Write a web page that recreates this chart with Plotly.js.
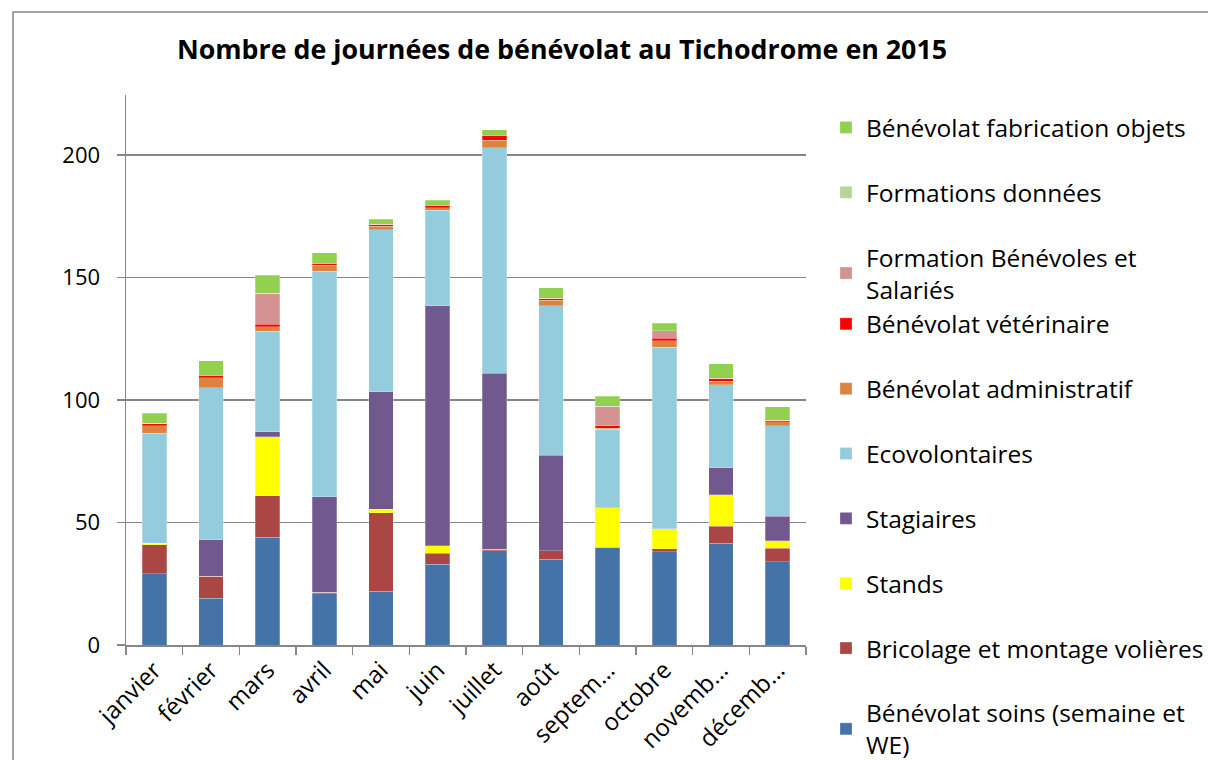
<!DOCTYPE html>
<html>
<head>
<meta charset="utf-8">
<script src="https://cdn.plot.ly/plotly-3.0.1.min.js"></script>
<style>
  body { margin: 0; background: #fff; }
  #chart { width: 1208px; height: 760px; }
</style>
</head>
<body>
<div id="chart"></div>
<script>
var months = ["janvier", "février", "mars", "avril", "mai", "juin", "juillet", "août", "septem…", "octobre", "novemb…", "décemb…"]

// journées par catégorie
var soins        = [29, 19, 44, 21, 22, 33, 38.5, 35, 40, 38, 41.5, 34]
var bricolage    = [12, 9, 17, 0.5, 32, 4.5, 0.5, 3.5, 0, 1.2, 7, 5.5]
var stands       = [0.5, 0, 24, 0, 1.4, 3, 0, 0, 16, 8.3, 12.8, 3]
var stagiaires   = [0, 15, 2, 39, 48, 98, 72, 39, 0, 0, 11, 10]
var ecovol       = [45, 62, 41, 92, 66, 39, 92, 61, 32, 74, 34, 37]
var admin        = [3, 4, 2, 2.5, 1.6, 1, 3, 2.3, 0.5, 2.6, 1.4, 1.6]
var veto         = [1, 1, 1, 0.7, 0.8, 0.7, 1.8, 0.8, 1, 1.2, 1.2, 0.7]
var formBenev    = [0, 0, 12.5, 0, 0, 0, 0, 0, 8, 3, 0, 0]
var formDonnees  = [0, 0, 0, 0, 0, 0, 0, 0, 0, 0, 0, 0]
var fabrication  = [4, 6, 7.5, 4.4, 2, 2.4, 2.6, 4.3, 4, 3.1, 5.9, 5.5]

// stacking order bottom -> top; legend shows them top -> bottom (rank)
var series = [
    {name: "Bénévolat soins (semaine et<br>WE)", y: soins, color: "#4572A7", group: "g1", rank: 10},
    {name: "Bricolage et montage volières", y: bricolage, color: "#AA4643", group: "g2", rank: 9},
    {name: "Stands", y: stands, color: "#FFFF00", group: "g3", rank: 8},
    {name: "Stagiaires", y: stagiaires, color: "#71588F", group: "g4", rank: 7},
    {name: "Ecovolontaires", y: ecovol, color: "#93CDDD", group: "g5", rank: 6},
    {name: "Bénévolat administratif", y: admin, color: "#DB843D", group: "g6", rank: 5},
    {name: "Bénévolat vétérinaire", y: veto, color: "#FF0000", group: "g7", rank: 4},
    {name: "Formation Bénévoles et<br>Salariés", y: formBenev, color: "#D39391", group: "g7", rank: 3},
    {name: "Formations données", y: formDonnees, color: "#B9D49B", group: "g8", rank: 2},
    {name: "Bénévolat fabrication objets", y: fabrication, color: "#92D050", group: "g9", rank: 1}
]

var font = "'Open Sans', Lato, sans-serif"

var data = series.map(function (s) {
    return {
        type: "bar",
        x: months,
        y: s.y,
        name: s.name,
        legendgroup: s.group,
        legendrank: s.rank,
        marker: {color: s.color, line: {color: "rgba(255,255,255,0.5)", width: 0.5}},
        hoverinfo: "x+y+name"
    }
})

// plot area in pixels: x 126..806, y 95..645
var L = 126, R = 806, T = 95, B = 645
var pw = R - L, ph = B - T

var layout = {
    width: 1208,
    height: 760,
    barmode: "stack",
    bargap: 0.57,
    paper_bgcolor: "#ffffff",
    plot_bgcolor: "#ffffff",
    font: {family: font, size: 22, color: "#000000"},
    margin: {l: L, r: 1208 - R, t: T, b: 760 - B, autoexpand: false},
    title: {
        text: "<b>Nombre de journées de bénévolat au Tichodrome en 2015</b>",
        font: {family: font, size: 26.8, color: "#000000"},
        x: 562 / 1208, xanchor: "center",
        y: 1 - 50 / 760, yanchor: "middle"
    },
    xaxis: {
        type: "category",
        tickangle: -45,
        showline: true, linecolor: "#868686", linewidth: 1.5,
        ticks: "outside", tickson: "boundaries", ticklen: 8, tickcolor: "#868686", tickwidth: 1.5,
        showgrid: false,
        tickfont: {size: 24}
    },
    yaxis: {
        range: [0, 224.5],
        tickvals: [0, 50, 100, 150, 200],
        showline: true, linecolor: "#868686", linewidth: 1.5,
        ticks: "outside", ticklen: 8, tickcolor: "#868686", tickwidth: 1.5,
        ticklabelstandoff: 12,
        gridcolor: "#868686", gridwidth: 1.5,
        zeroline: false,
        tickfont: {size: 22}
    },
    legend: {
        x: (826 - L) / pw, xanchor: "left",
        y: (B - 105) / ph, yanchor: "top",
        traceorder: "grouped",
        tracegroupgap: 30,
        maxheight: 2000,
        bgcolor: "rgba(0,0,0,0)",
        font: {family: font, size: 24.5, color: "#000000"}
    },
    shapes: [{
        type: "rect", xref: "paper", yref: "paper",
        x0: (13 - L) / pw, x1: (1230 - L) / pw,
        y0: (B - 790) / ph, y1: (B - 12) / ph,
        line: {color: "#868686", width: 1.5},
        fillcolor: "rgba(0,0,0,0)"
    }],
    showlegend: true
}

Plotly.newPlot("chart", data, layout, {displayModeBar: false, staticPlot: true})
</script>
</body>
</html>
